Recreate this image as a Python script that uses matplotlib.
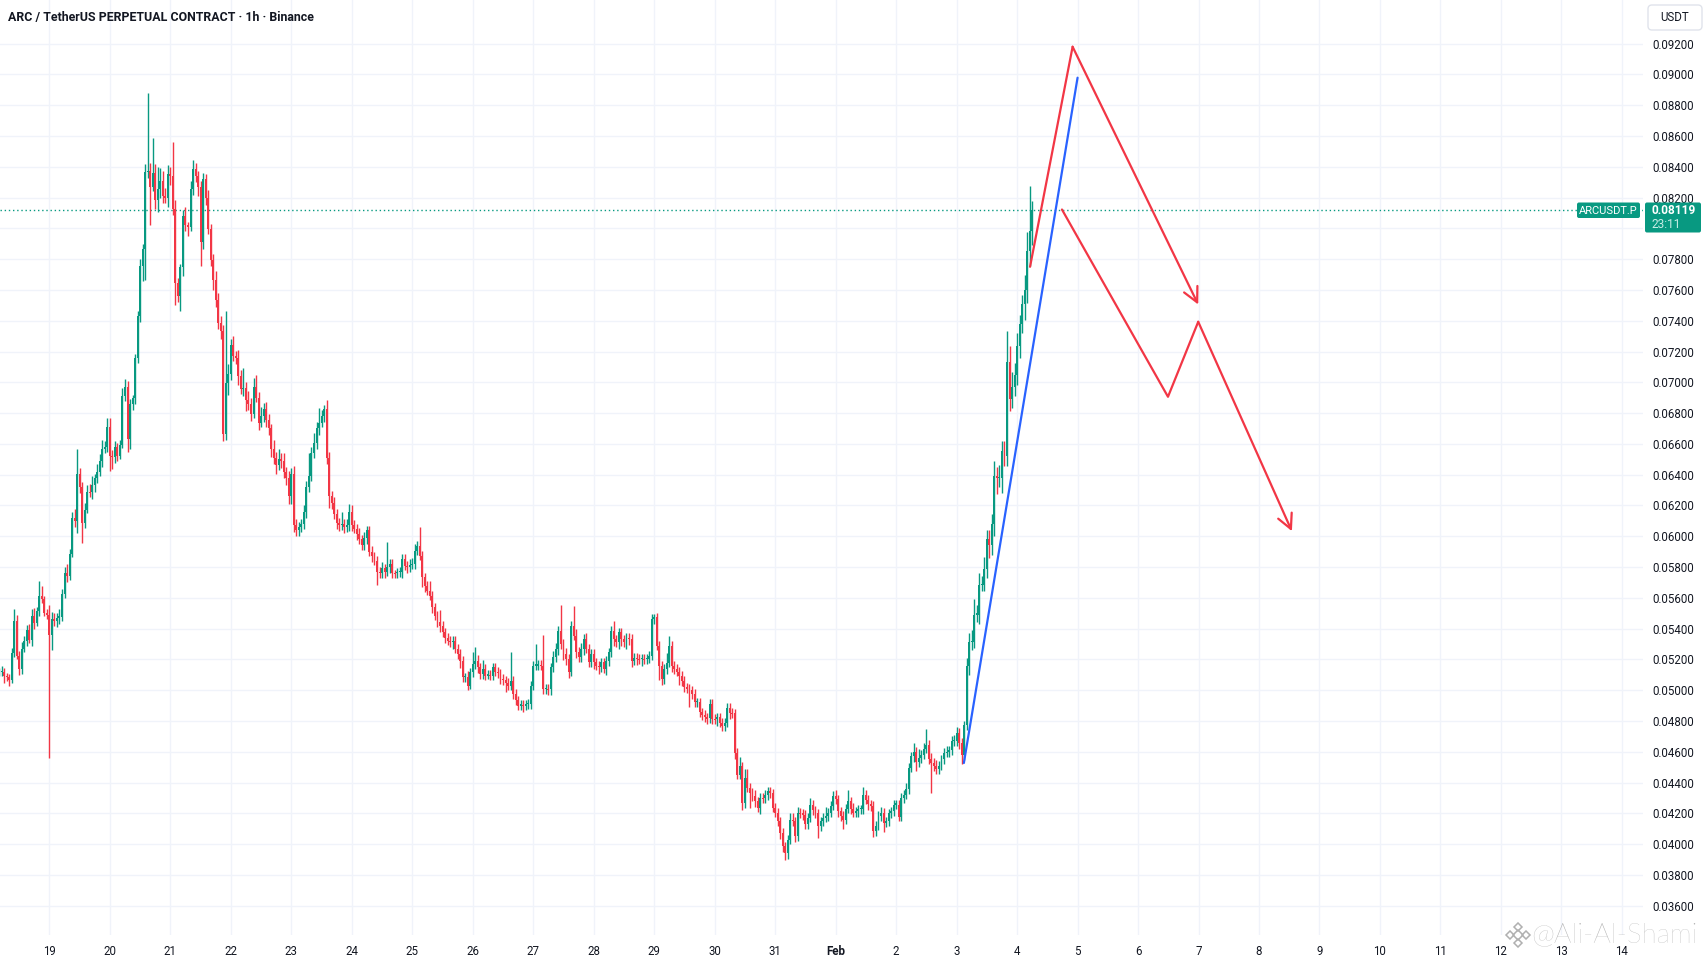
import matplotlib
matplotlib.use('Agg')
import matplotlib.pyplot as plt
import numpy as np
from matplotlib.patches import FancyBboxPatch
from matplotlib.transforms import IdentityTransform

### farben wie bei tradingview ###
UP = '#089981'
DOWN = '#F23645'
BLUE = '#2962FF'
GRID = '#F0F3FA'
TXT = '#131722'

W, H = 1706, 965

# stundenkerzen ab 18. Jan 04:00 (stunde -20 relativ zu 19. Jan 00:00), preise in 1e-5 USDT
start_hour = -20
first_open = 5110

jan18 = [5118, 5122, 5095, 5088, 5070, 5245, 5450, 5222, 5136, 5266, 5320, 5392, 5328, 5480, 5438, 5514, 5610, 5590, 5505, 5492]
jan19 = [5361, 5463, 5450, 5472, 5478, 5627, 5761, 5745, 5885, 6116, 6100, 6405, 6320, 6087, 6174, 6290, 6285, 6330, 6376, 6420, 6492, 6564, 6579, 6709]
jan20 = [6521, 6515, 6579, 6521, 6593, 6911, 6969, 6630, 6859, 6897, 7157, 7431, 7755, 7865, 8365, 8371, 8269, 8356, 8183, 8255, 8310, 8212, 8197, 8350]
jan21 = [8342, 8125, 7648, 7561, 7749, 8081, 8024, 8010, 8255, 8385, 8342, 8269, 7908, 8321, 8200, 7995, 7792, 7662, 7532, 7388, 7330, 6666, 6998, 7056]
jan22 = [7243, 7171, 7157, 7041, 6954, 6960, 6882, 6860, 6796, 6969, 6900, 6738, 6780, 6824, 6752, 6700, 6564, 6507, 6463, 6500, 6492, 6420, 6376, 6261]
jan23 = [6405, 6073, 6040, 6060, 6080, 6160, 6319, 6391, 6541, 6608, 6700, 6738, 6781, 6824, 6507, 6261, 6217, 6145, 6087, 6073, 6080, 6060, 6073, 6160]
jan24 = [6073, 6050, 6015, 5980, 5943, 5990, 6038, 5900, 5870, 5842, 5770, 5762, 5792, 5770, 5800, 5820, 5762, 5760, 5765, 5770, 5853, 5810, 5800, 5815]
jan25 = [5820, 5907, 5939, 5874, 5733, 5679, 5647, 5614, 5539, 5485, 5441, 5420, 5376, 5340, 5322, 5311, 5320, 5270, 5236, 5192, 5084, 5084, 5030, 5116]
jan26 = [5171, 5192, 5150, 5106, 5138, 5095, 5100, 5095, 5149, 5120, 5110, 5073, 5065, 5050, 5030, 5062, 4976, 4935, 4900, 4905, 4900, 4910, 4911, 5030]
jan27 = [5160, 5160, 5165, 5160, 5008, 5010, 5008, 5149, 5214, 5268, 5387, 5300, 5236, 5203, 5121, 5420, 5355, 5250, 5214, 5268, 5333, 5270, 5181, 5236]
jan28 = [5181, 5160, 5149, 5181, 5140, 5190, 5246, 5387, 5330, 5311, 5376, 5330, 5311, 5340, 5333, 5192, 5210, 5203, 5200, 5205, 5203, 5205, 5225, 5463]
jan29 = [5474, 5290, 5160, 5073, 5138, 5180, 5290, 5160, 5138, 5120, 5095, 5060, 5019, 5010, 5000, 4976, 4922, 4922, 4857, 4840, 4824, 4820, 4911, 4813]
jan30 = [4811, 4825, 4790, 4767, 4790, 4886, 4854, 4850, 4594, 4453, 4507, 4265, 4432, 4367, 4334, 4313, 4280, 4237, 4302, 4300, 4320, 4345, 4330, 4237]
jan31 = [4204, 4150, 4074, 3988, 3945, 4031, 4161, 4150, 4053, 4204, 4200, 4190, 4129, 4172, 4258, 4220, 4200, 4118, 4150, 4172, 4183, 4204, 4250, 4313]
feb01 = [4291, 4215, 4183, 4161, 4230, 4280, 4226, 4204, 4215, 4226, 4226, 4323, 4290, 4260, 4248, 4085, 4120, 4183, 4204, 4140, 4150, 4200, 4215, 4258]
feb02 = [4258, 4180, 4300, 4323, 4356, 4497, 4572, 4600, 4533, 4560, 4583, 4620, 4648, 4551, 4530, 4508, 4486, 4510, 4551, 4594, 4600, 4610, 4670, 4670]
feb03 = [4722, 4658, 4580, 4773, 5158, 5312, 5312, 5492, 5492, 5684, 5684, 5787, 5980, 5941, 6082, 6390, 6377, 6380, 6557, 6519, 7135, 6891, 6968, 7045]
feb04 = [7237, 7379, 7507, 7597, 7853, 7982, 8119]

# dochte (oben / unten) in 1e-5
up18 = [25, 35, 20, 15, 20, 30, 78, 40, 30, 45, 30, 35, 40, 50, 55, 30, 97, 70, 20, 20]
dn18 = [20, 25, 45, 30, 45, 20, 30, 20, 35, 30, 20, 30, 20, 40, 40, 20, 30, 20, 20, 30]
up19 = [60, 45, 40, 30, 50, 30, 40, 60, 30, 40, 60, 165, 40, 30, 40, 40, 50, 60, 30, 50, 40, 60, 40, 58]
dn19 = [801, 100, 30, 40, 40, 30, 30, 40, 30, 20, 40, 80, 40, 130, 30, 20, 30, 40, 40, 30, 30, 40, 20, 30]
up20 = [60, 40, 40, 30, 30, 50, 51, 40, 30, 20, 30, 30, 45, 30, 50, 505, 50, 231, 60, 140, 80, 60, 50, 60]
dn20 = [100, 80, 40, 30, 20, 20, 30, 80, 60, 40, 40, 30, 40, 100, 200, 40, 250, 30, 60, 80, 60, 50, 30, 60]
up21 = [50, 216, 60, 30, 20, 40, 60, 20, 50, 58, 40, 30, 40, 40, 30, 50, 30, 40, 60, 50, 40, 40, 462, 60]
dn21 = [60, 40, 145, 40, 100, 60, 40, 60, 30, 40, 40, 60, 153, 40, 50, 30, 40, 60, 40, 40, 50, 46, 40, 80]
up22 = [40, 60, 30, 50, 40, 130, 40, 60, 40, 60, 80, 40, 60, 40, 50, 40, 30, 60, 40, 70, 40, 50, 30, 50]
dn22 = [40, 30, 40, 60, 30, 40, 70, 40, 50, 30, 30, 50, 30, 40, 40, 40, 50, 40, 60, 30, 50, 40, 40, 50]
up23 = [40, 50, 40, 30, 30, 40, 40, 150, 40, 60, 40, 95, 40, 30, 60, 40, 30, 40, 30, 30, 80, 30, 40, 50]
dn23 = [50, 43, 40, 40, 30, 30, 40, 30, 30, 30, 40, 40, 30, 40, 40, 80, 40, 30, 40, 40, 30, 40, 30, 40]
up24 = [40, 30, 30, 40, 30, 40, 30, 30, 40, 30, 30, 30, 40, 30, 160, 30, 30, 20, 30, 30, 30, 30, 30, 40]
dn24 = [40, 30, 40, 30, 30, 30, 40, 30, 40, 30, 87, 30, 30, 40, 30, 40, 30, 30, 30, 30, 40, 30, 40, 30]
up25 = [40, 40, 30, 119, 30, 30, 30, 60, 30, 30, 30, 80, 30, 30, 30, 30, 30, 30, 30, 30, 30, 30, 40, 30]
dn25 = [30, 30, 30, 30, 60, 40, 30, 30, 40, 30, 30, 40, 30, 30, 30, 30, 40, 30, 30, 50, 30, 30, 30, 20]
up26 = [80, 90, 40, 30, 60, 30, 30, 30, 30, 30, 30, 30, 30, 30, 30, 184, 30, 30, 30, 30, 30, 30, 30, 30]
dn26 = [30, 30, 40, 30, 30, 30, 20, 30, 30, 30, 30, 30, 30, 60, 30, 30, 30, 30, 30, 30, 40, 30, 30, 30]
up27 = [30, 140, 30, 30, 200, 30, 30, 30, 40, 40, 30, 165, 30, 40, 30, 30, 130, 40, 30, 40, 30, 40, 30, 30]
dn27 = [30, 30, 30, 30, 30, 30, 40, 40, 30, 30, 40, 30, 40, 40, 40, 30, 30, 40, 30, 30, 40, 30, 30, 30]
up28 = [30, 30, 30, 30, 30, 30, 30, 30, 60, 30, 30, 30, 30, 30, 30, 30, 30, 30, 30, 30, 30, 30, 30, 30]
dn28 = [40, 30, 40, 30, 30, 40, 30, 30, 40, 30, 40, 40, 30, 40, 40, 40, 30, 40, 30, 40, 30, 30, 30, 30]
up29 = [20, 30, 30, 30, 30, 60, 60, 30, 30, 30, 30, 30, 30, 30, 30, 30, 30, 30, 30, 30, 30, 30, 30, 30]
dn29 = [30, 30, 90, 40, 30, 30, 30, 40, 30, 30, 60, 30, 30, 30, 110, 30, 30, 30, 30, 30, 30, 40, 30, 30]
up30 = [30, 30, 30, 30, 30, 30, 30, 30, 30, 30, 60, 30, 60, 60, 30, 30, 40, 30, 30, 30, 30, 30, 30, 30]
dn30 = [30, 40, 30, 30, 30, 30, 40, 30, 40, 30, 30, 40, 30, 30, 100, 30, 40, 30, 40, 30, 30, 30, 30, 30]
up31 = [30, 30, 30, 30, 30, 30, 40, 40, 30, 40, 30, 30, 30, 30, 40, 30, 30, 30, 30, 30, 60, 30, 30, 30]
dn31 = [30, 30, 40, 40, 44, 40, 30, 30, 40, 30, 30, 30, 30, 30, 30, 30, 30, 80, 30, 30, 30, 30, 30, 30]
up01 = [40, 30, 30, 30, 30, 70, 30, 40, 30, 30, 30, 50, 30, 30, 30, 30, 30, 30, 40, 30, 30, 30, 30, 30]
dn01 = [30, 40, 30, 60, 30, 30, 30, 30, 30, 40, 30, 30, 30, 40, 30, 40, 30, 30, 30, 60, 30, 30, 30, 30]
up02 = [30, 30, 30, 30, 40, 30, 30, 60, 30, 60, 30, 40, 100, 30, 40, 30, 40, 30, 30, 30, 40, 30, 30, 40]
dn02 = [30, 30, 30, 30, 30, 30, 30, 40, 60, 30, 30, 30, 30, 30, 200, 30, 30, 30, 30, 30, 30, 30, 30, 30]
up03 = [40, 30, 30, 30, 50, 60, 80, 100, 60, 80, 60, 80, 60, 60, 60, 100, 60, 80, 60, 60, 200, 100, 100, 80]
dn03 = [30, 40, 60, 30, 30, 60, 50, 40, 50, 60, 40, 40, 60, 80, 60, 80, 100, 60, 100, 60, 60, 80, 60, 60]
up04 = [80, 60, 60, 100, 120, 295, 60]
dn04 = [60, 80, 60, 100, 80, 100, 90]

close_days = [jan18, jan19, jan20, jan21, jan22, jan23, jan24, jan25, jan26, jan27,
              jan28, jan29, jan30, jan31, feb01, feb02, feb03, feb04]
up_days = [up18, up19, up20, up21, up22, up23, up24, up25, up26, up27,
           up28, up29, up30, up31, up01, up02, up03, up04]
dn_days = [dn18, dn19, dn20, dn21, dn22, dn23, dn24, dn25, dn26, dn27,
           dn28, dn29, dn30, dn31, dn01, dn02, dn03, dn04]

# zeichnungen (tage seit 19. Jan, preis in 1e-5)
blue_x = [15.12, 17.0]
blue_y = [4528, 8978]
red1_x = [16.214, 16.918, 18.995]
red1_y = [7750, 9179, 7505]
red2_x = [16.742, 18.495, 18.995, 20.544]
red2_y = [8122, 6906, 7393, 6033]

day_labels = ['19', '20', '21', '22', '23', '24', '25', '26', '27', '28', '29', '30', '31',
              'Feb', '2', '3', '4', '5', '6', '7', '8', '9', '10', '11', '12', '13', '14']

title = 'ARC / TetherUS PERPETUAL CONTRACT · 1h · Binance'
last_price = 0.08119
countdown = '23:11'

### kerzen zusammenbauen ###
c = np.concatenate(close_days) * 1e-5
o = np.concatenate([[first_open * 1e-5], c[:-1]])
hi = np.maximum(o, c) + np.concatenate(up_days) * 1e-5
lo = np.minimum(o, c) - np.concatenate(dn_days) * 1e-5
x = (np.arange(len(c)) + start_hour) / 24
cols = np.where(c >= o, UP, DOWN)

fig = plt.figure(figsize=(W / 100, H / 100), dpi=100)
fig.patch.set_facecolor('white')
ax = fig.add_axes([0, 30 / H, 1643 / W, 935 / H])
ax.set_facecolor('white')

ax.set_xlim(-0.8168, 26.349)
ax.set_ylim(0.03411, 0.094825)

# gitter
yt = np.arange(0.036, 0.0921, 0.002)
for yy in yt:
    ax.axhline(yy, color=GRID, lw=1, zorder=0)
for d in range(len(day_labels)):
    ax.axvline(d, color=GRID, lw=1, zorder=0)

# kerzen
ax.vlines(x, lo, hi, colors=cols, lw=1.0, zorder=2)
body = c - o
body = np.where(np.abs(body) < 8e-5, np.where(body >= 0, 8e-5, -8e-5), body)
ax.bar(x, body, bottom=o, width=0.78 / 24, color=cols, linewidth=0, zorder=3)

# letzte preislinie
ax.axhline(last_price, color=UP, lw=1, ls=(0, (1, 2)), zorder=1)

# linien
ax.plot(blue_x, np.array(blue_y) * 1e-5, color=BLUE, lw=1.6, zorder=4, solid_capstyle='round')
ax.plot(red1_x[:-1], np.array(red1_y[:-1]) * 1e-5, color=DOWN, lw=1.6, zorder=4, solid_capstyle='round')
ax.plot(red2_x[:-1], np.array(red2_y[:-1]) * 1e-5, color=DOWN, lw=1.6, zorder=4, solid_capstyle='round')
for xs, ys in [(red1_x, red1_y), (red2_x, red2_y)]:
    ax.annotate('', xy=(xs[-1], ys[-1] * 1e-5), xytext=(xs[-2], ys[-2] * 1e-5),
                arrowprops=dict(arrowstyle='->,head_length=0.75,head_width=0.38',
                                color=DOWN, lw=1.6, shrinkA=0, shrinkB=0,
                                mutation_scale=14), zorder=4)

# achsen
for s in ax.spines.values():
    s.set_visible(False)
ax.set_xticks(range(len(day_labels)))
ax.set_xticklabels(day_labels, fontsize=8.3, color=TXT, family='Roboto')
for lab in ax.get_xticklabels():
    if lab.get_text() == 'Feb':
        lab.set_fontweight('bold')
ax.tick_params(axis='x', length=0, pad=7.5)
# 0.08000 liegt unter dem preislabel und ist im original nicht sichtbar
ax.set_yticks(yt)
ax.set_yticklabels(['' if abs(v - 0.080) < 1e-6 else f'{v:.5f}' for v in yt],
                   fontsize=8.3, color=TXT, family='Roboto')
ax.yaxis.tick_right()
ax.tick_params(axis='y', length=0, pad=7)

### beschriftungen in pixel koordinaten ###
px = IdentityTransform()

def box(x0, y0, w, h, fc, ec='none', r=2):
    p = FancyBboxPatch((x0, H - y0 - h), w, h, boxstyle=f'round,pad=0,rounding_size={r}',
                       fc=fc, ec=ec, lw=1, transform=px, zorder=10)
    fig.add_artist(p)

fig.text(8, H - 17, title, transform=px, fontsize=8.9, fontweight='bold', color=TXT,
         va='center', ha='left', family='Roboto')

# USDT knopf
box(1648, 5, 54, 25, 'white', ec='#E0E3EB', r=4)
fig.text(1675, H - 17.5, 'USDT', transform=px, fontsize=8.3, color=TXT, ha='center', va='center',
         family='Roboto', zorder=11)

# preis label
box(1577, 202.5, 63, 15.5, UP)
fig.text(1608.5, H - 210.5, 'ARCUSDT.P', transform=px, fontsize=8.0, color='white', ha='center',
         va='center', family='Roboto', zorder=11)
box(1645, 202.5, 56, 30, UP)
fig.text(1651, H - 211, f'{last_price:.5f}', transform=px, fontsize=8.6, color='white',
         fontweight='bold', ha='left', va='center', family='Roboto', zorder=11)
fig.text(1651, H - 224, countdown, transform=px, fontsize=8.6, color='#C8EDE6',
         ha='left', va='center', family='Roboto', zorder=11)

# wasserzeichen
wm = '#B0B0B0'
lx, ly = 1518, H - 935
for dx, dy, ms in [(0, 0, 5), (0, 8, 4), (0, -8, 4), (-8, 0, 4), (8, 0, 4)]:
    fig.add_artist(plt.Line2D([lx + dx], [ly + dy], marker='D', ms=ms, mfc='none', mec=wm,
                              mew=1.1, transform=px, zorder=12))
fig.text(1531, H - 935, '@Ali-Al-Shami', transform=px, fontsize=20, color=wm,
         ha='left', va='center', family='Lato', fontweight='light', zorder=12)

fig.savefig('out.png', dpi=100, facecolor='white')
